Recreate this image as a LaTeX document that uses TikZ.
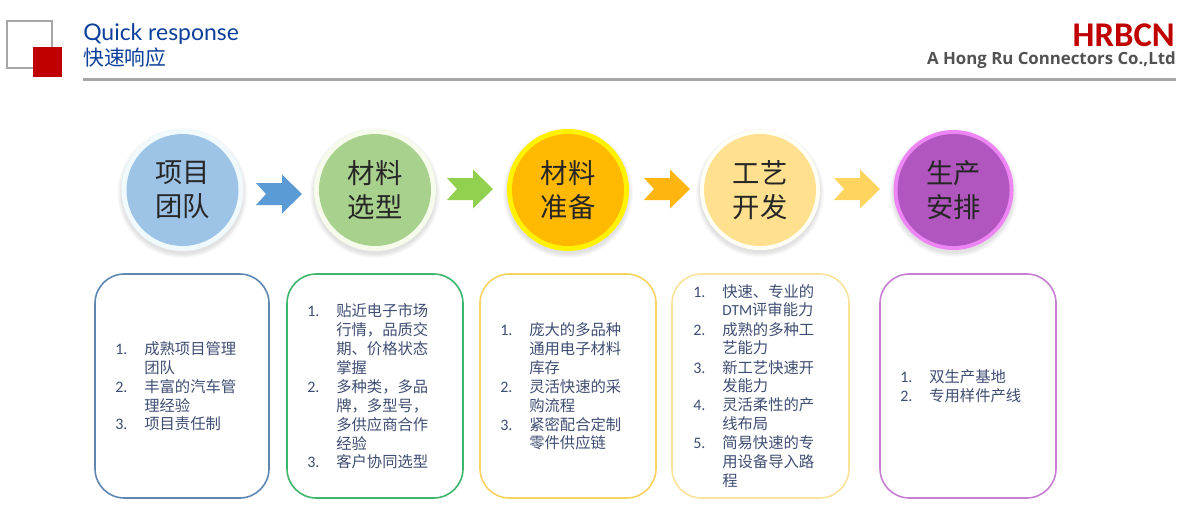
\documentclass[tikz,border=0pt]{standalone}
\usepackage{fontspec}
\setmainfont{Noto Sans CJK SC}
\newfontfamily\latfont{Carlito}
\newfontfamily\headfont{Lato}
\newfontfamily\cofont{Open Sans}
\definecolor{txtc}{HTML}{3F4E73}
\definecolor{headblue}{HTML}{0B3F9B}
\definecolor{logored}{HTML}{C00000}
\definecolor{rulegray}{HTML}{A6A6A6}
\definecolor{fa}{HTML}{9DC3E6}\definecolor{ra}{HTML}{F0FAFD}
\definecolor{fb}{HTML}{A9D18E}\definecolor{rb}{HTML}{F6FBEC}
\definecolor{fc}{HTML}{FFB900}\definecolor{rc}{HTML}{FFF200}
\definecolor{fd}{HTML}{FFE08F}\definecolor{rd}{HTML}{FFFFF6}
\definecolor{fe}{HTML}{B056BE}\definecolor{re}{HTML}{EE85F5}
\definecolor{aa}{HTML}{5B9BD5}\definecolor{ab}{HTML}{92D050}
\definecolor{ac}{HTML}{FFB50F}\definecolor{ad}{HTML}{FFD45F}
\definecolor{ba}{HTML}{5F86B3}\definecolor{bb}{HTML}{3DB56B}
\definecolor{bc}{HTML}{F6D25F}\definecolor{bd}{HTML}{F8E39A}
\definecolor{be}{HTML}{C67FD2}
\newcounter{linecnt}
\tikzset{
  discnode/.style={circle,minimum size=#1*1.5pt,inner sep=0pt,align=center,text=black!85,
    font=\fontsize{20.5pt}{25.5pt}\selectfont},
  cardbox/.style={draw=#1,line width=1.2pt,rounded corners=22pt,fill=white},
  numtext/.style={anchor=base west,inner sep=0pt,text=txtc,font=\fontsize{12pt}{13pt}\latfont},
  itemtext/.style={anchor=base west,inner sep=0pt,text=txtc,font=\fontsize{11.5pt}{13pt}\selectfont},
  fatarrow/.style={fill=#1,draw=none}
}
% #1 name, #2 x, #3 y, #4 ring colour, #5 ring radius, #6 fill colour, #7 text
\newcommand{\disc}[7]{%
  \foreach \k in {0,...,4}{\fill[black,opacity=.025] (#2,#3+3) circle[radius=#5+4-\k];}
  \fill[#4] (#2,#3) circle[radius=#5];
  \node[discnode=56,fill=#6] (#1) at (#2,#3) {#7};
}
% #1 name, #2 x start, #3 y centre, #4 colour
\newcommand{\fatarr}[4]{%
  \coordinate (#1) at (#2,#3);
  \fill[fatarrow=#4] (#1) ++(0,-11) -- ++(26,0) -- ++(0,-8.5) -- ++(20,19.5) -- ++(-20,19.5) -- ++(0,-8.5) -- ++(-26,0) -- ++(10,-11) -- cycle;
}
% #1 name, #2 left, #3 right, #4 colour
\newcommand{\card}[4]{%
  \draw[cardbox=#4] (#2,274) rectangle (#3,498);
  \coordinate (#1) at (#2,274);
}
\newcommand{\numlist}[2]{%
  \foreach \n/\y in {#2}{%
    \stepcounter{linecnt}%
    \node[numtext] (n\thelinecnt) at (#1,\y+5) {\n.};
  }%
}
\newcommand{\txtlist}[2]{%
  \foreach \y/\t in {#2}{%
    \stepcounter{linecnt}%
    \node[itemtext] (t\thelinecnt) at (#1,\y+5) {\t};
  }%
}
\begin{document}
\begin{tikzpicture}[x=0.75pt,y=-0.75pt]
\useasboundingbox (0,0) rectangle (1187,529);
% header
\draw[rulegray,line width=2pt] (7,21) rectangle (52,68);
\fill[logored] (33,47) rectangle (62,77);
\node[anchor=base west,inner sep=0pt,text=headblue,font=\fontsize{17.2pt}{18pt}\headfont] (qr) at (83,40) {Quick response};
\node[anchor=base west,inner sep=0pt,text=headblue,font=\fontsize{15.6pt}{18pt}\selectfont] (qc) at (83,65) {快速响应};
\node[anchor=base east,inner sep=0pt,text=logored,font=\fontsize{26pt}{28pt}\latfont\bfseries] (hr) at (1175,46) {HRBCN};
\node[anchor=base east,inner sep=0pt,text=black!68,font=\fontsize{12.6pt}{14pt}\cofont\bfseries] (co) at (1176,64) {A Hong Ru Connectors Co.,Ltd};
\coordinate (ruleL) at (83,79.5);
\coordinate (ruleR) at (1176,79.5);
\draw[rulegray,line width=2.6pt] (ruleL) -- (ruleR);
% discs
\disc{d1}{182.5}{190}{ra}{61}{fa}{项目\\团队}
\disc{d2}{375}{190}{rb}{61}{fb}{材料\\选型}
\disc{d3}{568}{190}{rc}{61}{fc}{材料\\准备}
\disc{d4}{760}{190}{rd}{60}{fd}{工艺\\开发}
\disc{d5}{953.5}{190}{re}{60}{fe}{生产\\安排}
% arrows
\fatarr{a1}{256}{194}{aa}
\fatarr{a2}{447}{189}{ab}
\fatarr{a3}{644}{189}{ac}
\fatarr{a4}{834}{189}{ad}
% cards
\card{c1}{95}{269}{ba}
\card{c2}{287}{463}{bb}
\card{c3}{480}{656}{bc}
\card{c4}{672}{849}{bd}
\card{c5}{880}{1056}{be}
% card 1
\numlist{115}{1/349,2/387,3/424}
\txtlist{144}{349/成熟项目管理,368/团队,387/丰富的汽车管,406/理经验,424/项目责任制}
% card 2
\numlist{307}{1/311,2/387,3/462}
\txtlist{336}{311/贴近电子市场,330/行情，品质交,349/期、价格状态,368/掌握,387/多种类，多品,406/牌，多型号，,425/多供应商合作,444/经验,462/客户协同选型}
% card 3
\numlist{500}{1/330,2/387,3/425}
\txtlist{529}{330/庞大的多品种,349/通用电子材料,368/库存,387/灵活快速的采,406/购流程,425/紧密配合定制,443/零件供应链}
% card 4
\numlist{693}{1/292,2/330,3/368,4/405,5/443}
\txtlist{722}{292/快速、专业的,310/{\latfont DTM}评审能力,330/成熟的多种工,348/艺能力,368/新工艺快速开,386/发能力,405/灵活柔性的产,424/线布局,443/简易快速的专,462/用设备导入路,481/程}
% card 5
\numlist{900}{1/377,2/396}
\txtlist{929}{377/双生产基地,396/专用样件产线}
\end{tikzpicture}
\end{document}
